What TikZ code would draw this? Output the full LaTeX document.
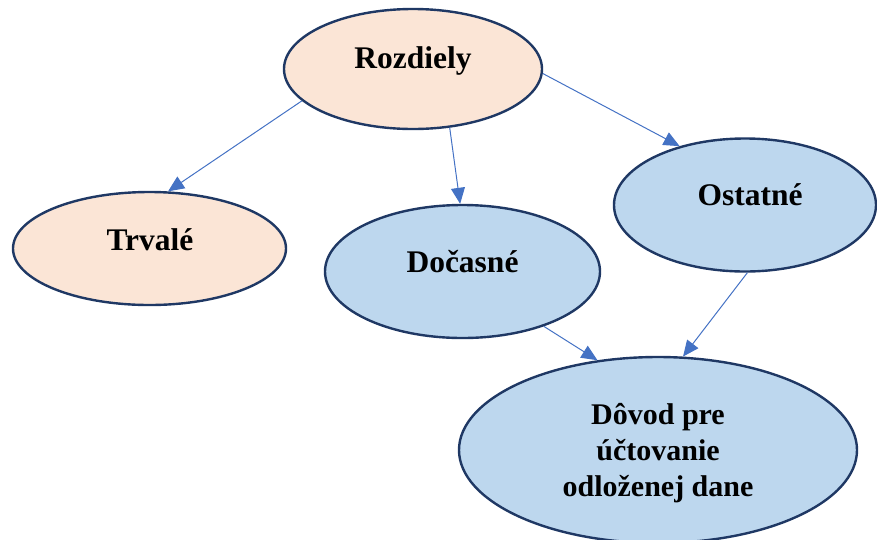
\documentclass[tikz,border=0pt]{standalone}
\usepackage{fontspec}
\setmainfont{Liberation Serif}
\usetikzlibrary{arrows.meta,shapes.geometric}
\definecolor{peach}{HTML}{FBE5D6}
\definecolor{lblue}{HTML}{BDD7EE}
\definecolor{navy}{HTML}{1F3864}
\definecolor{arr}{HTML}{4472C4}
\begin{document}
\begin{tikzpicture}[x=1pt,y=-1pt,
 ell/.style={ellipse, draw=navy, line width=2.4pt, inner sep=0pt},
 lbl/.style={font=\bfseries\fontsize{31.5}{36}\selectfont, align=center, inner sep=0pt},
 lblsm/.style={font=\bfseries\fontsize{30}{36}\selectfont, align=center, inner sep=0pt},
 conn/.style={draw=arr, line width=1pt, -{Triangle[length=16pt,width=14pt]}}]
\useasboundingbox (0,0) rectangle (877,539);
\node[ell, fill=peach, minimum width=258pt, minimum height=120pt] (roz) at (413,69) {};
\node[ell, fill=peach, minimum width=273pt, minimum height=113pt] (trv) at (149.5,248.5) {};
\node[ell, fill=lblue, minimum width=275pt, minimum height=133pt] (doc) at (462.5,271.5) {};
\node[ell, fill=lblue, minimum width=262pt, minimum height=133pt] (ost) at (745,205) {};
\node[ell, fill=lblue, minimum width=398pt, minimum height=186pt] (dov) at (658,450) {};
\node[lbl, anchor=base] (rozt) at (413,68) {Rozdiely};
\node[lbl, anchor=base] (trvt) at (150,250) {Trvalé};
\node[lbl, anchor=base] (doct) at (462.5,272) {Dočasné};
\node[lbl, anchor=base] (ostt) at (750,205) {Ostatné};
\node[lblsm] (dovt) at (658,453) {Dôvod pre\\účtovanie\\odloženej dane};
\draw[conn] (roz.196.7) -- (trv.72.5);
\draw[conn] (roz.302.6) -- (doc.92);
\draw[conn] (roz.-2) -- (ost.138.7);
\draw[conn] (doc.-34.9) -- (dov.124);
\draw[conn] (ost.-88) -- (dov.75.5);
\end{tikzpicture}
\end{document}
